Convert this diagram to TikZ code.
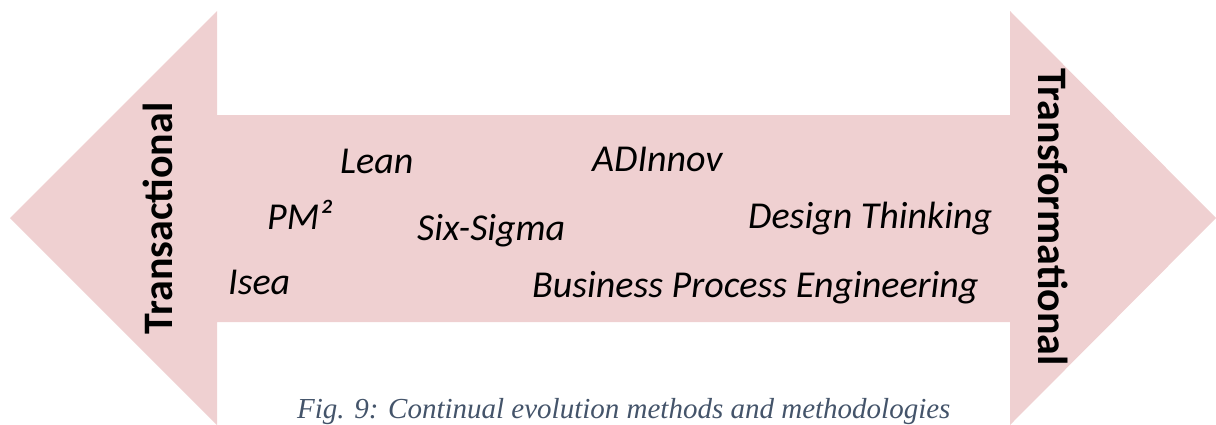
\documentclass[tikz,border=0pt]{standalone}
\usepackage{fontspec}
\setmainfont{Carlito}
\newfontfamily\capfont{Liberation Serif}
\definecolor{arrowpink}{RGB}{239,208,209}
\definecolor{capblue}{RGB}{68,84,106}
\tikzset{
  method/.style={inner sep=0pt, anchor=base west, font=\fontsize{38}{42}\selectfont\itshape},
  pole/.style={inner sep=0pt, anchor=base, font=\fontsize{42}{46}\selectfont\bfseries},
  caption/.style={inner sep=0pt, anchor=base west, text=capblue, font=\capfont\fontsize{29}{32}\selectfont\itshape}
}
\begin{document}
\begin{tikzpicture}[x=1pt,y=-1pt]
\useasboundingbox (0,0) rectangle (1216,424);
\fill[arrowpink] (10,218) -- (217,11) -- (217,115) -- (1010,115) -- (1010,11) -- (1216,218)
  -- (1010,425) -- (1010,322) -- (217,322) -- (217,425) -- cycle;
\node[pole, rotate=90] (trans) at (172,218.5) {Transactional};
\node[pole, rotate=-90] (transf) at (1038,217) {Transformational};
\node[method] (lean) at (340,173) {Lean};
\node[method] (pm) at (267,229) {PM²};
\node[method] (six) at (417,240) {Six-Sigma};
\node[method] (isea) at (228,294) {Isea};
\node[method] (adi) at (592,171) {ADInnov};
\node[method] (dt) at (748,228) {Design Thinking};
\node[method] (bpe) at (532,297) {Business Process Engineering};
\node[caption] (cap) at (297,418) {Fig. 9: Continual evolution methods and methodologies};
\end{tikzpicture}
\end{document}
